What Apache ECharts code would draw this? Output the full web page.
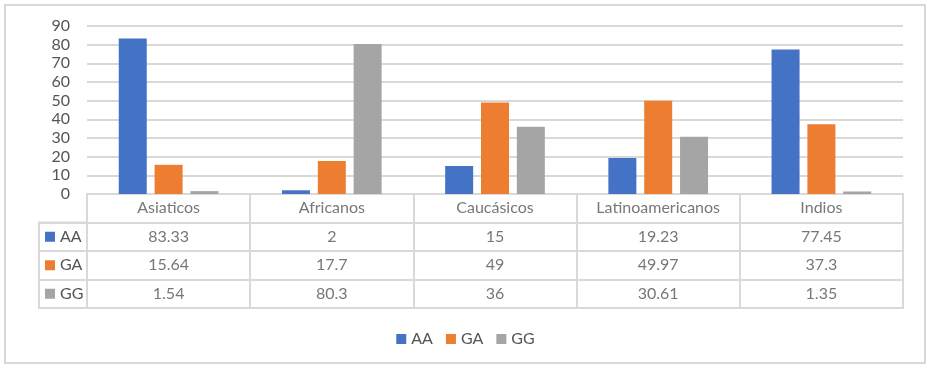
<!DOCTYPE html>
<html>
<head>
<meta charset="utf-8">
<script src="https://cdn.jsdelivr.net/npm/echarts@6/dist/echarts.min.js"></script>
<style>html,body{margin:0;padding:0;background:#fff}#c{width:931px;height:370px}</style>
</head>
<body>
<div id="c"></div>
<script>
const categories = ['Asiaticos', 'Africanos', 'Caucásicos', 'Latinoamericanos', 'Indios'];
const seriesNames = ['AA', 'GA', 'GG'];
const AA = [83.33, 2, 15, 19.23, 77.45];
const GA = [15.64, 17.7, 49, 49.97, 37.3];
const GG = [1.54, 80.3, 36, 30.61, 1.35];
const yTicks = [0, 10, 20, 30, 40, 50, 60, 70, 80, 90];

const values = { AA, GA, GG };
const colors = { AA: '#4472C4', GA: '#ED7D31', GG: '#A5A5A5' };
const FONT = 'Lato, "Noto Sans", sans-serif';
const FS = 16;
const TXT = '#555555';
const LINE = '#d9d9d9';

const chart = echarts.init(document.getElementById('c'), null, { renderer: 'canvas' });

// table cell text points
const tableRows = ['h'].concat(seriesNames);
const cellData = [];
categories.forEach((c, i) => {
  cellData.push({ value: [i, 'h'], txt: c });
  seriesNames.forEach(s => cellData.push({ value: [i, s], txt: String(values[s][i]) }));
});

const rich = {};
seriesNames.forEach(s => { rich[s] = { width: 10, height: 10, backgroundColor: colors[s] }; });
rich.t = { fontSize: FS, fontFamily: FONT, color: TXT, padding: [0, 0, 0, 5] };

const option = {
  animation: false,
  textStyle: { fontFamily: FONT },
  graphic: [{
    type: 'rect', silent: true,
    shape: { x: 5, y: 5, width: 920, height: 358 },
    style: { fill: 'none', stroke: LINE, lineWidth: 2 }
  }],
  legend: {
    data: seriesNames,
    left: 'center', top: 326,
    icon: 'rect', itemWidth: 10, itemHeight: 10, itemGap: 13,
    textStyle: { fontSize: FS, color: TXT, fontFamily: FONT }
  },
  grid: [
    { left: 87, right: 28, top: 26, height: 168, containLabel: false },
    { left: 87, right: 28, top: 194, height: 114, show: true, borderColor: LINE, borderWidth: 2 },
    { left: 39, width: 48, top: 222.5, height: 85.5, show: true, borderColor: LINE, borderWidth: 2 }
  ],
  xAxis: [
    { gridIndex: 0, type: 'category', data: categories, axisLine: { show: false }, axisTick: { show: false }, axisLabel: { show: false } },
    { gridIndex: 1, type: 'category', data: categories, axisLine: { show: false }, axisTick: { show: false }, axisLabel: { show: false },
      splitLine: { show: true, interval: 0, lineStyle: { color: LINE, width: 2 } } },
    { gridIndex: 2, type: 'value', min: 0, max: 1, show: false }
  ],
  yAxis: [
    { gridIndex: 0, type: 'value', min: yTicks[0], max: yTicks[yTicks.length - 1], interval: yTicks[1] - yTicks[0],
      axisLine: { show: false }, axisTick: { show: false },
      axisLabel: { fontSize: FS, color: TXT, fontFamily: FONT, margin: 17 },
      splitLine: { lineStyle: { color: LINE, width: 2 } } },
    { gridIndex: 1, type: 'category', data: tableRows, inverse: true, axisLine: { show: false }, axisTick: { show: false }, axisLabel: { show: false },
      splitLine: { show: true, interval: 0, lineStyle: { color: LINE, width: 2 } } },
    { gridIndex: 2, type: 'category', data: seriesNames, inverse: true, axisLine: { show: false }, axisTick: { show: false },
      axisLabel: { inside: true, margin: 6, formatter: v => '{' + v + '|}{t|' + v + '}', rich: rich },
      splitLine: { show: true, interval: 0, lineStyle: { color: LINE, width: 2 } } }
  ],
  series: seriesNames.map(s => ({
    name: s, type: 'bar', xAxisIndex: 0, yAxisIndex: 0,
    data: values[s], barWidth: 28, barGap: '28%',
    itemStyle: { color: colors[s] }
  })).concat([{
    name: 'table', type: 'scatter', xAxisIndex: 1, yAxisIndex: 1, silent: true,
    symbolSize: 0, data: cellData,
    label: { show: true, position: 'inside', fontSize: FS, color: TXT, fontFamily: FONT,
      formatter: p => p.data.txt }
  }])
};
chart.setOption(option);
</script>
</body>
</html>
